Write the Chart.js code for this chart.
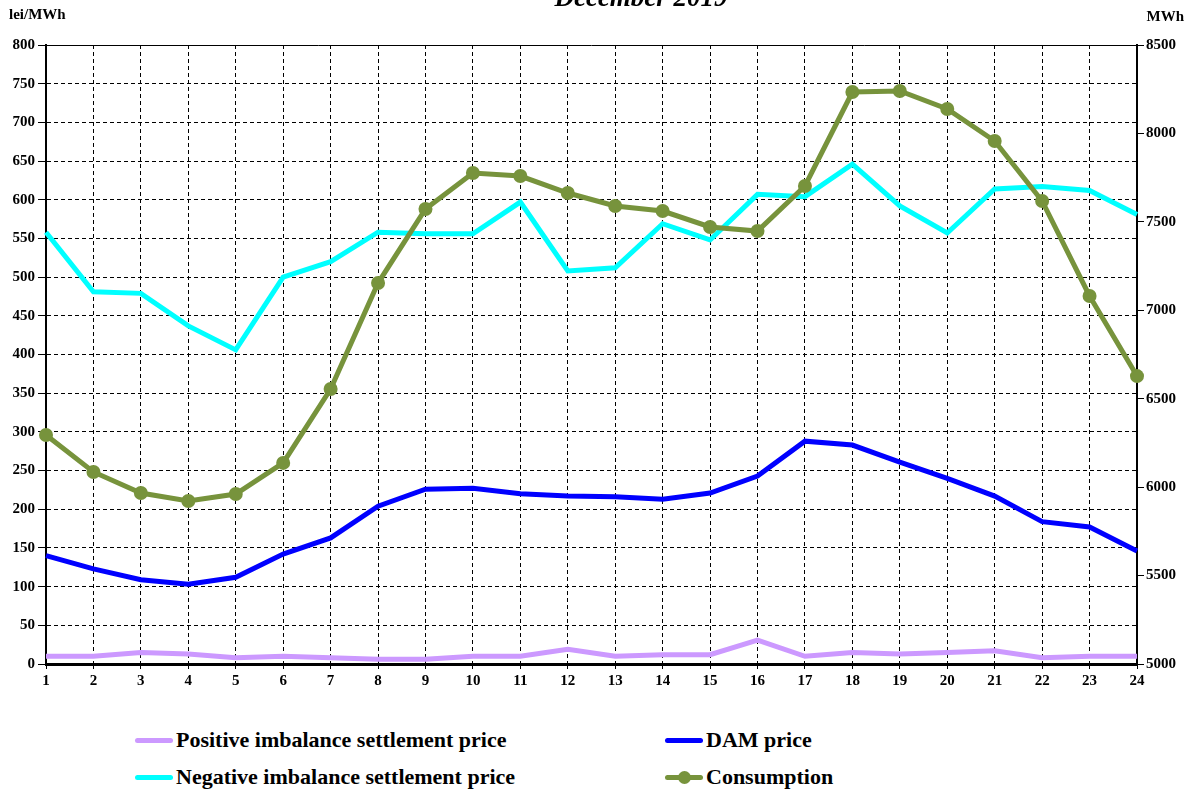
<!DOCTYPE html>
<html lang="en">
<head>
  <meta charset="UTF-8" />
  <title>December 2019</title>
  <script src="https://cdn.jsdelivr.net/npm/chart.js"></script>
  <style>
    body {
      margin: 0;
      background: #fff;
      font-family: 'Liberation Serif', 'Times New Roman', serif;
    }

    .wrap {
      position: relative;
      width: 1189px;
      height: 791px;
      overflow: hidden;
    }

    #chart {
      position: absolute;
      top: 0;
      left: 0;
    }

    .legend-item {
      position: absolute;
      display: flex;
      align-items: center;
      font-weight: bold;
      font-size: 22px;
      color: #000;
      height: 30px;
    }

    .legend-item .mark {
      position: relative;
      width: 38px;
      height: 5px;
      border-radius: 3px;
      margin-right: 3px;
    }

    .legend-item .dot {
      position: absolute;
      left: 13px;
      top: -4px;
      width: 13px;
      height: 13px;
      border-radius: 50%;
    }
  </style>
</head>
<body>
  <div class="wrap">
    <canvas id="chart" width="1189" height="700"></canvas>

    <!-- Legend -->
    <div class="legend-item" style="left:135px; top:725px;">
      <span class="mark" style="background:#cc99ff"></span>Positive imbalance settlement price
    </div>
    <div class="legend-item" style="left:665px; top:725px;">
      <span class="mark" style="background:#0000ff"></span>DAM price
    </div>
    <div class="legend-item" style="left:135px; top:762px;">
      <span class="mark" style="background:#00ffff"></span>Negative imbalance settlement price
    </div>
    <div class="legend-item" style="left:665px; top:762px;">
      <span class="mark" style="background:#77933c"><span class="dot" style="background:#77933c"></span></span>Consumption
    </div>
  </div>

  <script>
    // Hours of the day
    const hours = ['1', '2', '3', '4', '5', '6', '7', '8', '9', '10', '11', '12',
                   '13', '14', '15', '16', '17', '18', '19', '20', '21', '22', '23', '24'];

    // lei/MWh
    const positivePrice = [10, 10, 15, 13, 8, 10, 8, 6, 6, 10, 10, 19,
                           10, 12, 12, 31, 10, 15, 13, 15, 17, 8, 10, 10];
    const negativePrice = [558, 481, 479, 437, 406, 500, 520, 558, 556, 556, 597, 508,
                           512, 569, 548, 607, 604, 646, 592, 557, 614, 617, 612, 581];
    const damPrice = [140, 123, 109, 103, 112, 142, 163, 204, 226, 227, 220, 217,
                      216, 213, 221, 243, 288, 283, 261, 240, 217, 184, 177, 146];

    // MWh
    const consumption = [6295, 6086, 5967, 5922, 5961, 6137, 6555, 7154, 7573, 7776, 7759, 7663,
                         7590, 7561, 7471, 7448, 7703, 8234, 8240, 8138, 7957, 7618, 7081, 6628];

    const titleText = 'December 2019';
    const leftUnit = 'lei/MWh';
    const rightUnit = 'MWh';

    const tickFont = { family: "'Liberation Serif', serif", size: 15, weight: 'bold' };

    // title, unit labels and top frame line
    const extras = {
      id: 'extras',
      afterDraw(chart) {
        const ctx = chart.ctx;
        const area = chart.chartArea;
        ctx.save();
        ctx.strokeStyle = '#000';
        ctx.lineWidth = 1;
        ctx.beginPath();
        ctx.moveTo(area.left, area.top + 0.5);
        ctx.lineTo(area.right, area.top + 0.5);
        ctx.stroke();

        ctx.fillStyle = '#000';
        ctx.font = "italic bold 27px 'Liberation Serif', serif";
        ctx.textAlign = 'center';
        ctx.textBaseline = 'alphabetic';
        ctx.fillText(titleText, 641, 6);

        ctx.font = "bold 15px 'Liberation Serif', serif";
        ctx.textBaseline = 'middle';
        ctx.textAlign = 'left';
        ctx.fillText(leftUnit, 9, 15);
        ctx.textAlign = 'right';
        ctx.fillText(rightUnit, 1184, 17);
        ctx.restore();
      }
    };

    new Chart(document.getElementById('chart'), {
      type: 'line',
      data: {
        labels: hours,
        datasets: [
          {
            label: 'Consumption',
            data: consumption,
            yAxisID: 'y1',
            borderColor: '#77933c',
            backgroundColor: '#77933c',
            borderWidth: 5,
            pointRadius: 7,
            pointBorderWidth: 0,
            order: 0
          },
          {
            label: 'Negative imbalance settlement price',
            data: negativePrice,
            yAxisID: 'y',
            borderColor: '#00ffff',
            borderWidth: 5,
            pointRadius: 0,
            order: 1
          },
          {
            label: 'DAM price',
            data: damPrice,
            yAxisID: 'y',
            borderColor: '#0000ff',
            borderWidth: 5,
            pointRadius: 0,
            order: 2
          },
          {
            label: 'Positive imbalance settlement price',
            data: positivePrice,
            yAxisID: 'y',
            borderColor: '#cc99ff',
            borderWidth: 5,
            pointRadius: 0,
            order: 3
          }
        ]
      },
      options: {
        responsive: false,
        animation: false,
        devicePixelRatio: 1,
        layout: { padding: { top: 45, left: 0, right: 0, bottom: 0 } },
        plugins: {
          legend: { display: false },
          title: { display: false },
          tooltip: { enabled: false }
        },
        scales: {
          x: {
            offset: false,
            afterFit(scale) { scale.height = 36; },
            grid: {
              color: '#000',
              lineWidth: 1,
              tickLength: 5,
              tickColor: '#000'
            },
            border: { color: '#000', width: 3, dash: [4, 3] },
            ticks: { color: '#000', font: tickFont, padding: 3, maxRotation: 0, autoSkip: false }
          },
          y: {
            position: 'left',
            min: 0,
            max: 800,
            afterFit(scale) { scale.width = 46; },
            grid: {
              color: '#000',
              lineWidth: 1,
              tickLength: 8,
              tickColor: '#000'
            },
            border: { color: '#000', width: 2, dash: [4, 3] },
            ticks: { stepSize: 50, color: '#000', font: tickFont, padding: 3 }
          },
          y1: {
            position: 'right',
            min: 5000,
            max: 8500,
            afterFit(scale) { scale.width = 52; },
            grid: {
              drawOnChartArea: false,
              tickLength: 7,
              tickColor: '#000'
            },
            border: { color: '#000', width: 2 },
            ticks: {
              stepSize: 500,
              color: '#000',
              font: tickFont,
              padding: 2,
              callback: (value) => String(value)
            }
          }
        }
      },
      plugins: [extras]
    });
  </script>
</body>
</html>
